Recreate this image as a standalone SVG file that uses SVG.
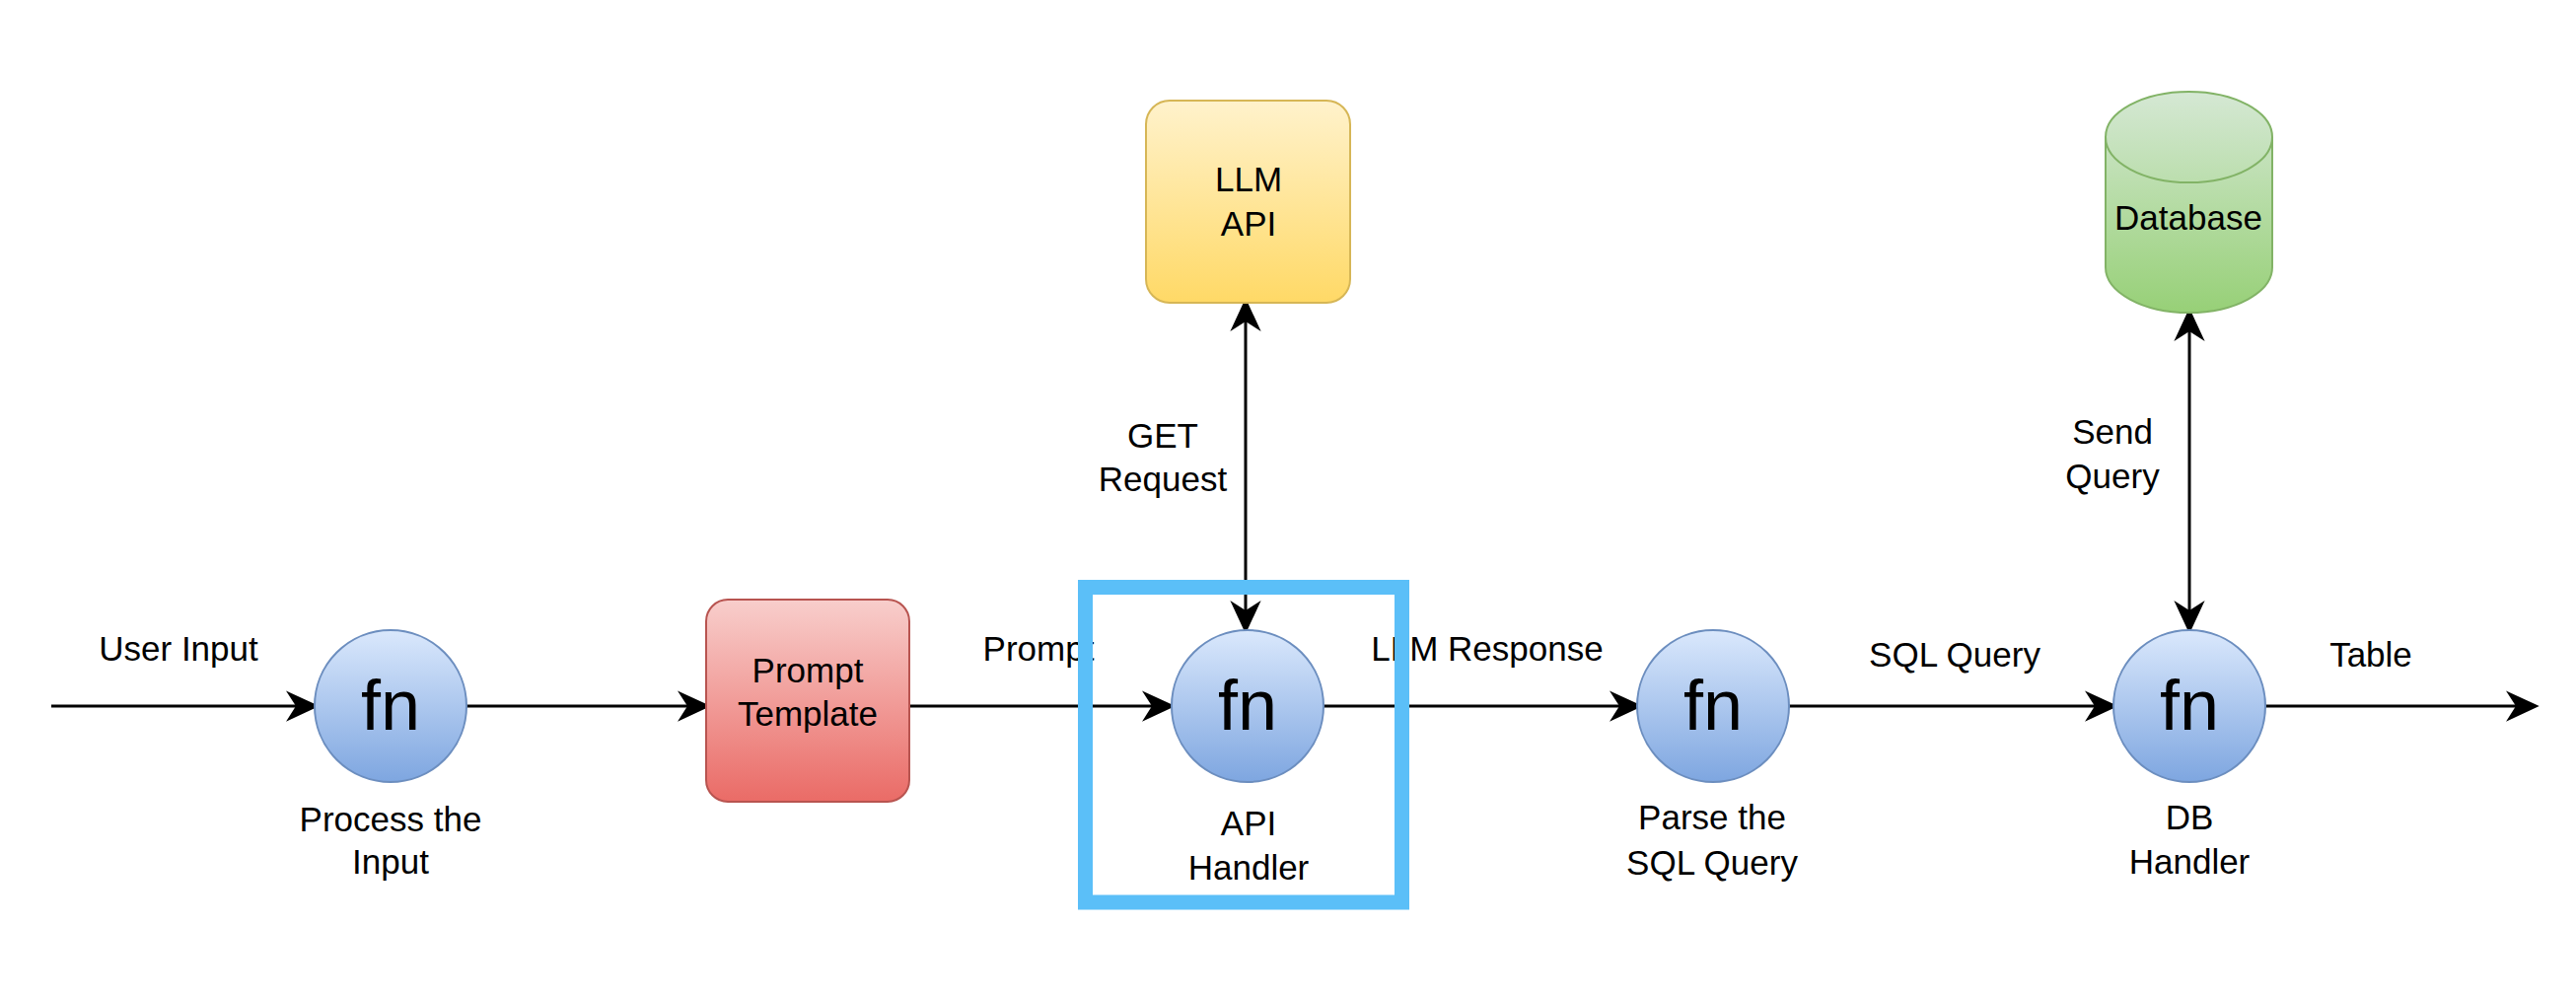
<svg xmlns="http://www.w3.org/2000/svg" width="2612" height="1010" viewBox="0 0 2612 1010">
<style>
text{font-family:"Liberation Sans",Arial,Helvetica,sans-serif;font-size:35px;fill:#000;text-anchor:middle}
.fn{font-size:72px}
.edge{fill:none;stroke:#000;stroke-width:3}
.fnc{fill:url(#gBlue);stroke:#6c8ebf;stroke-width:2}
</style>
<defs>
<linearGradient id="gBlue" x1="0" y1="0" x2="0" y2="1"><stop offset="0" stop-color="#dae8fc"/><stop offset="1" stop-color="#7ea6e0"/></linearGradient>
<linearGradient id="gRed" x1="0" y1="0" x2="0" y2="1"><stop offset="0" stop-color="#f8cecc"/><stop offset="1" stop-color="#ea6b66"/></linearGradient>
<linearGradient id="gYel" x1="0" y1="0" x2="0" y2="1"><stop offset="0" stop-color="#fff2cc"/><stop offset="1" stop-color="#ffd966"/></linearGradient>
<linearGradient id="gGrn" x1="0" y1="0" x2="0" y2="1"><stop offset="0" stop-color="#d5e8d4"/><stop offset="1" stop-color="#97d077"/></linearGradient>
<marker id="arr" markerUnits="userSpaceOnUse" markerWidth="40" markerHeight="40" viewBox="-10 -15 32 30" refX="0" refY="0" orient="auto-start-reverse">
<path d="M19,0 L-8,-12.5 L0,0 L-8,12.5 Z" fill="#000"/>
</marker>
</defs>

<g id="connectors">
<path class="edge" d="M52,716 H300" marker-end="url(#arr)"/>
<path class="edge" d="M473,716 H697" marker-end="url(#arr)"/>
<path class="edge" d="M922,716 H1168" marker-end="url(#arr)"/>
<path class="edge" d="M1342,716 H1642" marker-end="url(#arr)"/>
<path class="edge" d="M1814,716 H2124" marker-end="url(#arr)"/>
<path class="edge" d="M2297,716 H2551" marker-end="url(#arr)"/>
<path class="edge" d="M1263,326 V619" marker-start="url(#arr)" marker-end="url(#arr)"/>
<path class="edge" d="M2220,336 V619" marker-start="url(#arr)" marker-end="url(#arr)"/>
<text x="181" y="670">User Input</text>
<text x="1053" y="670">Prompt</text>
<text x="1508" y="670">LLM Response</text>
<text x="1982" y="676">SQL Query</text>
<text x="2404" y="676">Table</text>
<text x="1179" y="454">GET</text>
<text x="1179" y="498">Request</text>
<text x="2142" y="450">Send</text>
<text x="2142" y="495">Query</text>
</g>

<g id="process-input">
<circle class="fnc" cx="396" cy="716" r="77"/>
<text class="fn" x="396" y="740">fn</text>
<text x="396" y="843">Process the</text>
<text x="396" y="886">Input</text>
</g>

<g id="prompt-template">
<rect x="716" y="608" width="206" height="205" rx="22" fill="url(#gRed)" stroke="#b85450" stroke-width="2"/>
<text x="819" y="692">Prompt</text>
<text x="819" y="736">Template</text>
</g>

<g id="api-handler">
<circle class="fnc" cx="1265" cy="716" r="77"/>
<text class="fn" x="1265" y="740">fn</text>
<text x="1266" y="847">API</text>
<text x="1266" y="892">Handler</text>
</g>

<g id="llm-api">
<rect x="1162" y="102" width="207" height="205" rx="24" fill="url(#gYel)" stroke="#d6b656" stroke-width="2"/>
<text x="1266" y="194">LLM</text>
<text x="1266" y="239">API</text>
</g>

<g id="parse-sql">
<circle class="fnc" cx="1737" cy="716" r="77"/>
<text class="fn" x="1737" y="740">fn</text>
<text x="1736" y="841">Parse the</text>
<text x="1736" y="887">SQL Query</text>
</g>

<g id="db-handler">
<circle class="fnc" cx="2220" cy="716" r="77"/>
<text class="fn" x="2220" y="740">fn</text>
<text x="2220" y="841">DB</text>
<text x="2220" y="886">Handler</text>
</g>

<g id="database">
<path d="M2135,139 A84.5,46 0 0 1 2304,139 V271 A84.5,46 0 0 1 2135,271 Z" fill="url(#gGrn)" stroke="#82b366" stroke-width="2"/>
<path d="M2135,139 A84.5,46 0 0 0 2304,139" fill="none" stroke="#82b366" stroke-width="2"/>
<text x="2219" y="233">Database</text>
</g>

<g id="highlight">
<rect x="1100.5" y="595.5" width="321" height="319.5" fill="none" stroke="#5bbff8" stroke-width="15"/>
</g>
</svg>
